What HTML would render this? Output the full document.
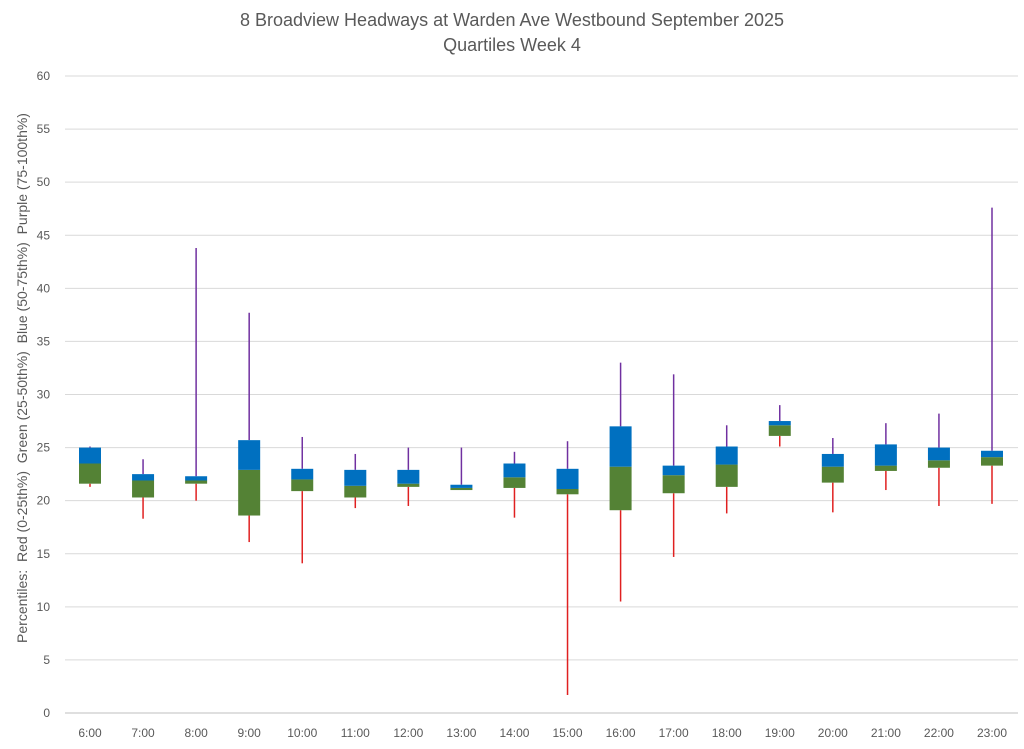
<!DOCTYPE html>
<html><head><meta charset="utf-8"><style>
body{margin:0;background:#fff;font-family:"Liberation Sans",sans-serif;}
svg text{font-family:"Liberation Sans",sans-serif;fill:#595959;}
</style></head><body>
<svg id="chart" width="1024" height="744">
<text x="512" y="26" text-anchor="middle" font-size="18">8 Broadview Headways at Warden Ave Westbound September 2025</text>
<text x="512" y="51" text-anchor="middle" font-size="18">Quartiles Week 4</text>
<text transform="translate(27,378) rotate(-90)" text-anchor="middle" font-size="14" style="white-space:pre" xml:space="preserve">Percentiles:  Red (0-25th%)  Green (25-50th%)  Blue (50-75th%)  Purple (75-100th%)</text>
<g id="grid"></g><g id="marks"></g>
</svg>
<script>
const categories=["6:00","7:00","8:00","9:00","10:00","11:00","12:00","13:00","14:00","15:00","16:00","17:00","18:00","19:00","20:00","21:00","22:00","23:00"];
const minVals=[21.3,18.3,20.0,16.1,14.1,19.3,19.5,21.0,18.4,1.7,10.5,14.7,18.8,25.1,18.9,21.0,19.5,19.7];
const q1Vals=[21.6,20.3,21.6,18.6,20.9,20.3,21.3,21.0,21.2,20.6,19.1,20.7,21.3,26.1,21.7,22.8,23.1,23.3];
const medVals=[23.5,21.9,21.9,22.9,22.0,21.4,21.6,21.2,22.2,21.1,23.2,22.4,23.4,27.1,23.2,23.3,23.8,24.1];
const q3Vals=[25.0,22.5,22.3,25.7,23.0,22.9,22.9,21.5,23.5,23.0,27.0,23.3,25.1,27.5,24.4,25.3,25.0,24.7];
const maxVals=[25.1,23.9,43.8,37.7,26.0,24.4,25.0,25.0,24.6,25.6,33.0,31.9,27.1,29.0,25.9,27.3,28.2,47.6];
const yTicks=[0,5,10,15,20,25,30,35,40,45,50,55,60];
const NS="http://www.w3.org/2000/svg";
const y=v=>713-v*(637/60);
const x=i=>90+i*(902/17);
function mk(t,a,p){const e=document.createElementNS(NS,t);for(const k in a)e.setAttribute(k,a[k]);p.appendChild(e);return e;}
const grid=document.getElementById('grid'),marks=document.getElementById('marks');
yTicks.forEach(t=>{
 const l=mk('line',{x1:65,x2:1018,y1:y(t),y2:y(t),stroke:t===0?'#bfbfbf':'#d9d9d9','stroke-width':1},grid);
 
 
 const tx=mk('text',{x:50,y:y(t)+4,'text-anchor':'end','font-size':12},grid);tx.textContent=t;
 
 
});
categories.forEach((c,i)=>{
 const cx=x(i),w=22;
 const tx=mk('text',{x:cx,y:737,'text-anchor':'middle','font-size':12},grid);tx.textContent=c;
 
 
 const r=mk('line',{x1:cx,x2:cx,y1:y(minVals[i]),y2:y(q1Vals[i]),stroke:'#e02020','stroke-width':1.5},marks);
 
 
 const p=mk('line',{x1:cx,x2:cx,y1:y(maxVals[i]),y2:y(q3Vals[i]),stroke:'#7030a0','stroke-width':1.5},marks);
 
 
 const g=mk('rect',{x:cx-w/2,y:y(medVals[i]),width:w,height:Math.max(0,y(q1Vals[i])-y(medVals[i])),fill:'#548235'},marks);
 
 
 const b=mk('rect',{x:cx-w/2,y:y(q3Vals[i]),width:w,height:Math.max(0,y(medVals[i])-y(q3Vals[i])),fill:'#0070c0'},marks);
 
 
});
</script>
</body></html>
